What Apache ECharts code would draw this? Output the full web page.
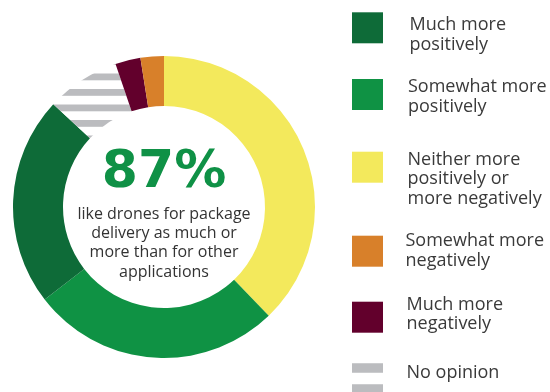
<!DOCTYPE html>
<html>
<head>
<meta charset="utf-8">
<script src="https://cdn.jsdelivr.net/npm/echarts@6/dist/echarts.min.js"></script>
<style>
  html, body { margin: 0; padding: 0; background: #ffffff; }
  #chart { width: 550px; height: 392px; }
</style>
</head>
<body>
<div id="chart"></div>
<script>
// Survey answers, in ring order (clockwise from 12 o'clock)
const categories = [
  'Neither more positively or more negatively',
  'Somewhat more positively',
  'Much more positively',
  'No opinion',
  'Much more negatively',
  'Somewhat more negatively'
];
const shares = [37.8, 26.7, 22.4, 7.9, 2.7, 2.5];

// Legend order and the wrapped text shown beside each swatch
const legendOrder = [
  'Much more positively',
  'Somewhat more positively',
  'Neither more positively or more negatively',
  'Somewhat more negatively',
  'Much more negatively',
  'No opinion'
];
const legendText = [
  'Much more\npositively',
  'Somewhat more\npositively',
  'Neither more\npositively or\nmore negatively',
  'Somewhat more\nnegatively',
  'Much more\nnegatively',
  'No opinion'
];

const headline = '87%';
const caption = 'like drones for package\ndelivery as much or\nmore than for other\napplications';

// Colours per answer
const palette = {
  'Much more positively': '#0e6b38',
  'Somewhat more positively': '#0f9244',
  'Neither more positively or more negatively': '#f3e95c',
  'Somewhat more negatively': '#d8802a',
  'Much more negatively': '#62002c',
  'No opinion': '#bbbcbf'
};

// Horizontal stripes for "No opinion" (period 15.5px)
function stripePattern() {
  const c = document.createElement('canvas');
  c.width = 8; c.height = 31;
  const g = c.getContext('2d');
  g.fillStyle = '#ffffff';
  g.fillRect(0, 0, 8, 31);
  g.fillStyle = '#bbbcbf';
  g.fillRect(0, 11.5, 8, 6.8);
  g.fillRect(0, 27, 8, 4);
  g.fillRect(0, 0, 8, 2.8);
  return { image: c, repeat: 'repeat' };
}

const pieData = categories.map((name, i) => ({
  name: name,
  value: shares[i],
  itemStyle: { color: name === 'No opinion' ? stripePattern() : palette[name] }
}));

// Legend layout: swatch top, label left edge and first-line baseline
const swatchTop = [12.3, 79, 151.7, 235.7, 301.7, 363.3];
const labelX = [409.5, 408, 407.5, 405.5, 406.5, 406.5];
const firstBaseline = [32.3, 94.3, 166.7, 248.3, 311.7, 380];
const FONT = 18, LH = 19.5, MID = 7, ICON = 31;

// One legend per entry so each swatch sits at its own height
const legends = legendOrder.map((name, i) => {
  const item = { name: name };
  if (name === 'No opinion') {
    item.icon = 'path://M0,0H31V9.5H0Z M0,21H31V31H0Z';
    item.itemStyle = { color: palette[name] };
  }
  return {
    left: 352,
    top: swatchTop[i],
    padding: 0,
    selectedMode: false,
    icon: 'rect',
    itemWidth: ICON,
    itemHeight: ICON,
    data: [item],
    formatter: () => '',
    textStyle: { fontSize: 10, lineHeight: 10 }
  };
});

// Legend labels, placed by their first baseline
const legendLabels = legendText.map((text, i) => ({
  type: 'text',
  x: labelX[i],
  y: firstBaseline[i] - MID - LH / 2,
  silent: true,
  style: {
    text: text,
    fill: '#3a3a3a',
    font: FONT + 'px "Open Sans", sans-serif',
    lineHeight: LH,
    align: 'left',
    verticalAlign: 'top'
  }
}));

const chart = echarts.init(document.getElementById('chart'), null, { renderer: 'canvas' });
chart.setOption({
  animation: false,
  backgroundColor: '#ffffff',
  legend: legends,
  series: [{
    type: 'pie',
    center: [164, 207],
    radius: [101, 151],
    startAngle: 90,
    clockwise: true,
    silent: true,
    label: { show: false },
    labelLine: { show: false },
    itemStyle: { borderWidth: 0 },
    emphasis: { disabled: true },
    data: pieData
  }],
  graphic: [
    {
      type: 'text',
      x: 164, y: 173,
      silent: true,
      style: {
        text: headline,
        fill: '#0f9146',
        font: 'bold 52px "DejaVu Sans", sans-serif',
        align: 'center',
        verticalAlign: 'middle'
      }
    },
    {
      type: 'text',
      x: 164, y: 243,
      silent: true,
      style: {
        text: caption,
        fill: '#333333',
        font: '16px "Open Sans", sans-serif',
        lineHeight: 19.3,
        align: 'center',
        verticalAlign: 'middle'
      }
    }
  ].concat(legendLabels)
});
</script>
</body>
</html>
